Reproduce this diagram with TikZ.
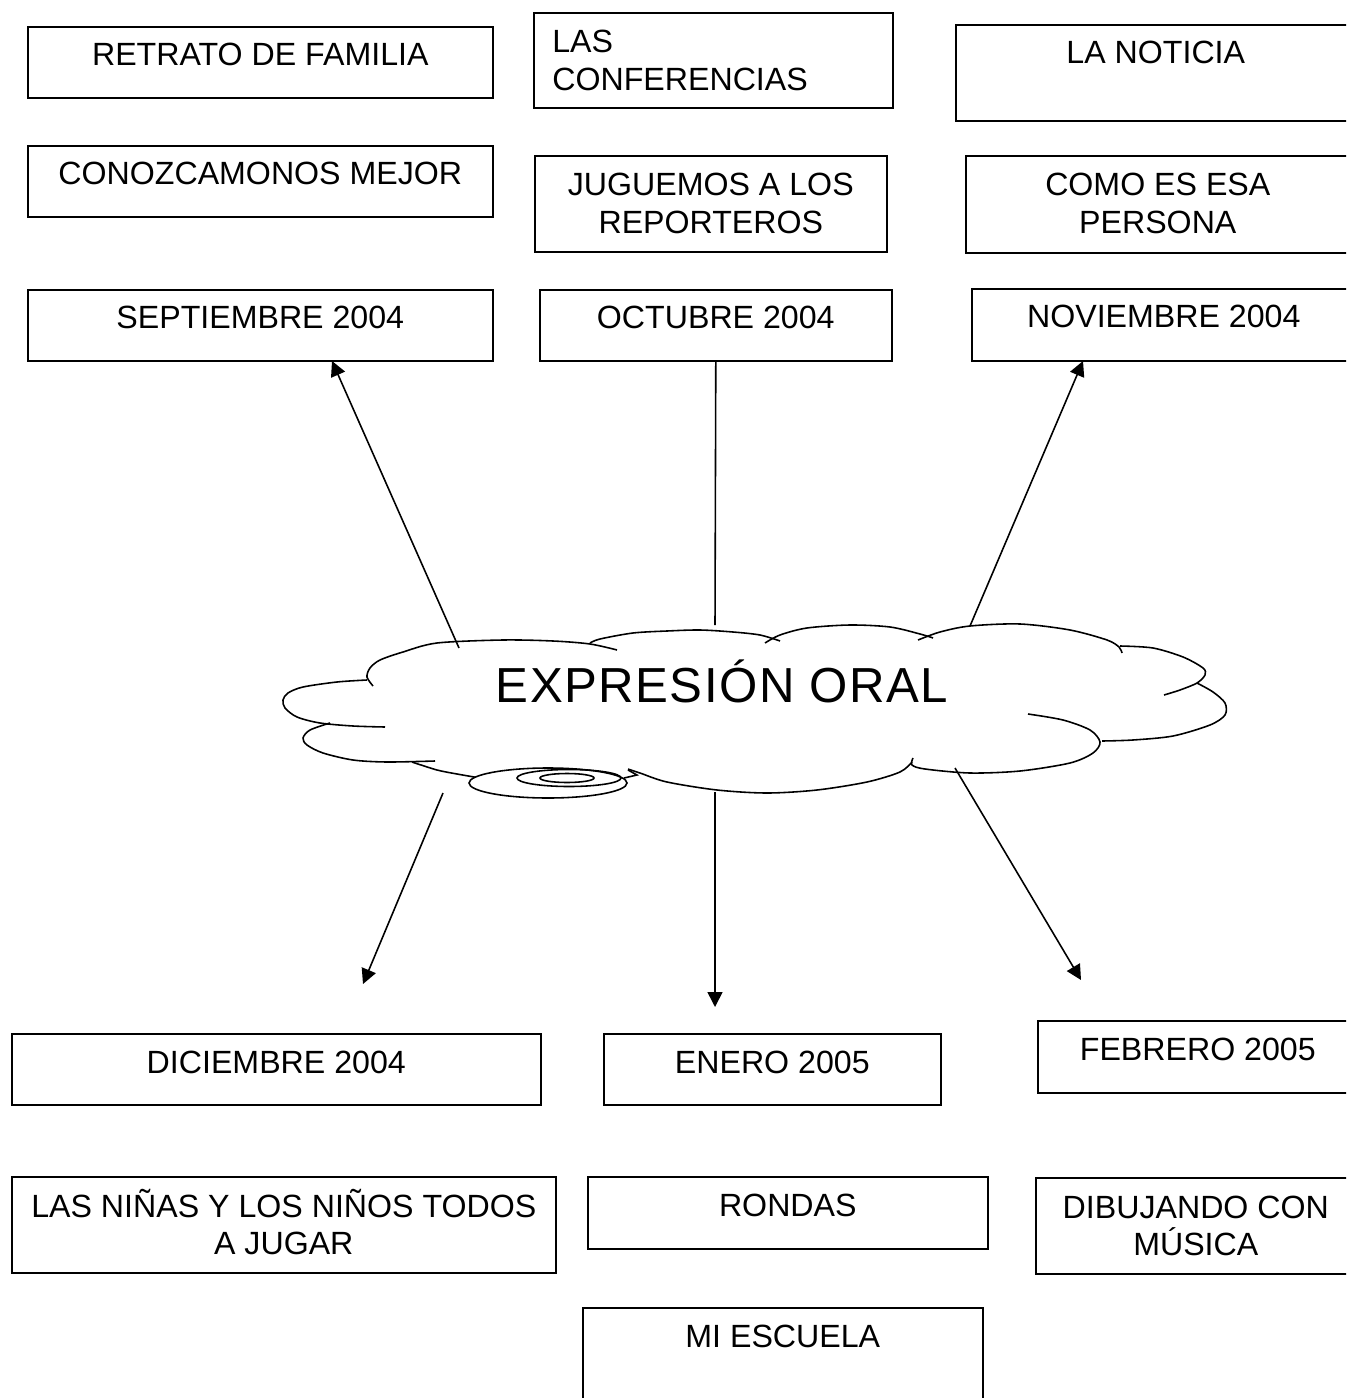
\documentclass[tikz,border=0pt]{standalone}
\usepackage{fontspec}
\setmainfont{Liberation Sans}
\usetikzlibrary{arrows.meta}

\tikzset{
  box/.style 2 args={draw, line width=0.9pt, anchor=north west, inner sep=0pt,
    minimum width=#1*0.02cm, minimum height=#2*0.02cm},
  lbl/.style={anchor=base, inner sep=0pt, align=center, font=\fontsize{18.3}{21.5}\selectfont},
  cl/.style={line width=0.9pt},
  arr/.style={line width=0.9pt, -{Triangle[length=0.3cm, width=0.3cm]}}
}

\begin{document}
\begin{tikzpicture}[x=0.02cm, y=-0.02cm]
\useasboundingbox (0,0) rectangle (1346,1398);
\clip (0,0) rectangle (1346,1398);

% upper boxes
\node[box={465}{71}] (retrato) at (27,26) {};
\node[box={359}{95}] (conf) at (533,12) {};
\node[box={400}{96}] (noticia) at (955,24) {};
\node[box={465}{71}] (conoz) at (27,145) {};
\node[box={352}{96}] (jugue) at (534,155) {};
\node[box={384}{97}] (como) at (965,155) {};
\node[box={465}{71}] (sept) at (27,289) {};
\node[box={352}{71}] (oct) at (539,289) {};
\node[box={384}{72}] (nov) at (971,288) {};

\node[lbl] (retrato-t) at ([yshift=-0.8cm]retrato.north) {RETRATO DE FAMILIA};
\node[lbl, anchor=base west, align=left] (conf-t) at ([xshift=0.38cm, yshift=-0.82cm-21.5pt]conf.north west) {LAS\\CONFERENCIAS};
\node[lbl] (noticia-t) at ([yshift=-0.8cm]noticia.north) {LA NOTICIA};
\node[lbl] (conoz-t) at ([yshift=-0.8cm]conoz.north) {CONOZCAMONOS MEJOR};
\node[lbl] (jugue-t) at ([yshift=-0.82cm-21.5pt]jugue.north) {JUGUEMOS A LOS\\REPORTEROS};
\node[lbl] (como-t) at ([yshift=-0.82cm-21.5pt]como.north) {COMO ES ESA\\PERSONA};
\node[lbl] (sept-t) at ([yshift=-0.8cm]sept.north) {SEPTIEMBRE 2004};
\node[lbl] (oct-t) at ([yshift=-0.8cm]oct.north) {OCTUBRE 2004};
\node[lbl] (nov-t) at ([yshift=-0.8cm]nov.north) {NOVIEMBRE 2004};

% lower boxes
\node[box={529}{71}] (dic) at (11,1033) {};
\node[box={337}{71}] (ene) at (603,1033) {};
\node[box={320}{72}] (feb) at (1037,1020) {};
\node[box={544}{96}] (ninas) at (11,1176) {};
\node[box={400}{72}] (rondas) at (587,1176) {};
\node[box={320}{96}] (dibu) at (1035,1177) {};
\node[box={400}{120}] (escuela) at (582,1307) {};

\node[lbl] (dic-t) at ([yshift=-0.8cm]dic.north) {DICIEMBRE 2004};
\node[lbl] (ene-t) at ([yshift=-0.8cm]ene.north) {ENERO 2005};
\node[lbl] (feb-t) at ([yshift=-0.8cm]feb.north) {FEBRERO 2005};
\node[lbl] (ninas-t) at ([yshift=-0.82cm-21.5pt]ninas.north) {LAS NIÑAS Y LOS NIÑOS TODOS\\A JUGAR};
\node[lbl] (rondas-t) at ([yshift=-0.8cm]rondas.north) {RONDAS};
\node[lbl] (dibu-t) at ([yshift=-0.82cm-21.5pt]dibu.north) {DIBUJANDO CON\\MÚSICA};
\node[lbl] (escuela-t) at ([yshift=-0.8cm]escuela.north) {MI ESCUELA};

% cloud
\draw[cl] plot[smooth] coordinates {(373,686) (367,677) (370,668) (380,660) (403,652) (437,643) (503,640) (553,641) (590,644) (617,650)};
\draw[cl] plot[smooth] coordinates {(590,643) (600,639) (633,633) (667,631) (700,630) (733,632) (760,635) (780,641)};
\draw[cl] plot[smooth] coordinates {(765,643) (780,635) (807,628) (850,625) (890,627) (920,634) (933,638)};
\draw[cl] plot[smooth] coordinates {(918,640) (940,632) (970,626) (1020,624) (1070,630) (1107,640) (1119,647) (1122,653)};
\draw[cl] plot[smooth] coordinates {(1120,646) (1153,648) (1183,657) (1203,668) (1205,675) (1197,683) (1180,690) (1164,695)};
\draw[cl] plot[smooth] coordinates {(1197,683) (1213,692) (1225,703) (1225,715) (1210,725) (1173,736) (1133,740) (1102,741)};
\draw[cl] plot[smooth] coordinates {(1028,714) (1063,720) (1090,730) (1100,742) (1093,753) (1070,763) (1020,771) (970,773) (925,769) (912,765) (913,758)};
\draw[cl] plot[smooth] coordinates {(912,762) (900,772) (867,782) (817,790) (767,793) (717,790) (667,782) (640,773) (628,769)};
\draw[cl] (624,778) -- (637,775) -- (628,770);
\draw[cl] plot[smooth] coordinates {(412,762) (437,770) (457,774) (480,778)};
\draw[cl] plot[smooth] coordinates {(435,761) (387,762) (353,760) (323,753) (307,745) (303,738) (310,730) (330,723)};
\draw[cl] plot[smooth] coordinates {(385,727) (353,726) (320,723) (297,717) (285,708) (283,700) (288,693) (303,687) (337,682) (367,680)};
\draw[cl, fill=white] (548,783) ellipse [x radius=79, y radius=15];
\draw[cl] (569,778) ellipse [x radius=52, y radius=8.5];
\draw[cl] (567,778) ellipse [x radius=27, y radius=4.5];

\node[anchor=base, inner sep=0pt, font=\fontsize{28}{32}\selectfont\addfontfeature{LetterSpace=3}] (title) at (722,702) {EXPRESIÓN ORAL};

% connectors
\coordinate (s1) at (459,648);
\coordinate (s2) at (332,361);
\coordinate (o1) at (715,625);
\coordinate (n1) at (970,626);
\coordinate (n2) at (1083,361);
\coordinate (d1) at (443,793);
\coordinate (d2) at (363,984);
\coordinate (e1) at (715,792);
\coordinate (e2) at (715,1007);
\coordinate (f1) at (955,768);
\coordinate (f2) at (1081,980);

\draw[arr] (s1) -- (s2);
\draw[cl] (o1) -- (oct.south);
\draw[arr] (n1) -- (n2);
\draw[arr] (d1) -- (d2);
\draw[arr] (e1) -- (e2);
\draw[arr] (f1) -- (f2);
\end{tikzpicture}
\end{document}
